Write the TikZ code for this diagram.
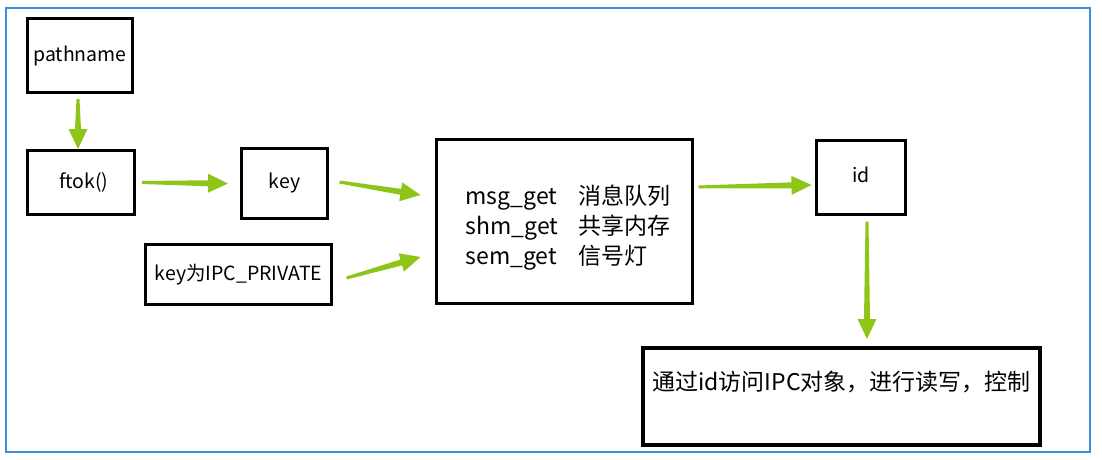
\documentclass[tikz,border=0pt]{standalone}
\usepackage{fontspec}
\setmainfont{Noto Sans CJK SC}
\usepackage{xcolor}
\usepackage{tikz}
\usetikzlibrary{calc,positioning}

\definecolor{arrgreen}{RGB}{141,198,24}
\definecolor{frameblue}{RGB}{58,142,222}

\tikzset{
    box/.style={draw, line width=3pt, inner sep=0pt, font=\fontsize{19.5}{24}\selectfont},
    bigtext/.style={font=\fontsize{23}{30}\selectfont},
    % tapered green arrow, filled
    garrow/.style={fill=arrgreen, draw=none, to path={
        ($(\tikztotarget)!20pt!(\tikztostart)$) coordinate (hb)
        ($(\tikztostart)!1.5pt!90:(\tikztotarget)$) -- ($(hb)!3pt!90:(\tikztotarget)$)
        -- ($(hb)!9.5pt!90:(\tikztotarget)$) -- (\tikztotarget)
        -- ($(hb)!9.5pt!-90:(\tikztotarget)$) -- ($(hb)!3pt!-90:(\tikztotarget)$)
        -- ($(\tikztostart)!1.5pt!-90:(\tikztotarget)$) -- cycle}}
}

\begin{document}
\begin{tikzpicture}[x=1pt, y=-1pt]
    \useasboundingbox (0,0) rectangle (1102,460);
    \draw[frameblue, line width=2pt] (6,8) rectangle (1090,452);

    % boxes
    \node[box, minimum width=105pt, minimum height=74pt] (pathname) at (80,55.5) {pathname};
    \node[box, minimum width=107pt, minimum height=64pt] (ftok) at (81,182.5) {\hspace{6pt}ftok()};
    \node[box, minimum width=86pt, minimum height=70pt] (key) at (284.5,183.5) {key};
    \node[box, minimum width=186pt, minimum height=60pt] (private) at (238.5,274.5) {key为IPC\_PRIVATE};
    \node[box, bigtext, minimum width=256pt, minimum height=164pt, text height=58pt, text depth=32pt] (get) at (564.5,221.5)
        {\hspace{7pt}\begin{tabular}{@{}l@{\hspace{20pt}}l@{}}
            msg\_get & 消息队列\\
            shm\_get & 共享内存\\
            sem\_get & 信号灯
        \end{tabular}};
    \node[box, minimum width=89pt, minimum height=74pt, text height=18pt, text depth=9pt] (id) at (861,177.5) {id\hspace{12pt}};
    \node[box, bigtext, line width=4pt, minimum width=397pt, minimum height=97pt, text height=16pt, text depth=29pt] (access) at (841.5,396.5)
        {通过id访问IPC对象，进行读写，控制};

    % arrows
    \path[garrow] ($(pathname.south)+(-2,5)$) to ($(ftok.north)+(-3,0)$);
    \path[garrow] ($(ftok.east)+(6,0)$) to ($(key.west)+(-12,0)$);
    \path[garrow] ($(key.east)+(10.5,-1.5)$) to ($(get.west)+(-14.5,-26.5)$);
    \path[garrow] ($(private.east)+(13.5,3.5)$) to ($(get.west)+(-14.5,35.5)$);
    \path[garrow] ($(get.east)+(4.5,-34.5)$) to ($(id.west)+(-3.5,7.5)$);
    \path[garrow] ($(id.south)+(6,5.5)$) to ($(access.north)+(25.5,-7)$);
\end{tikzpicture}
\end{document}
